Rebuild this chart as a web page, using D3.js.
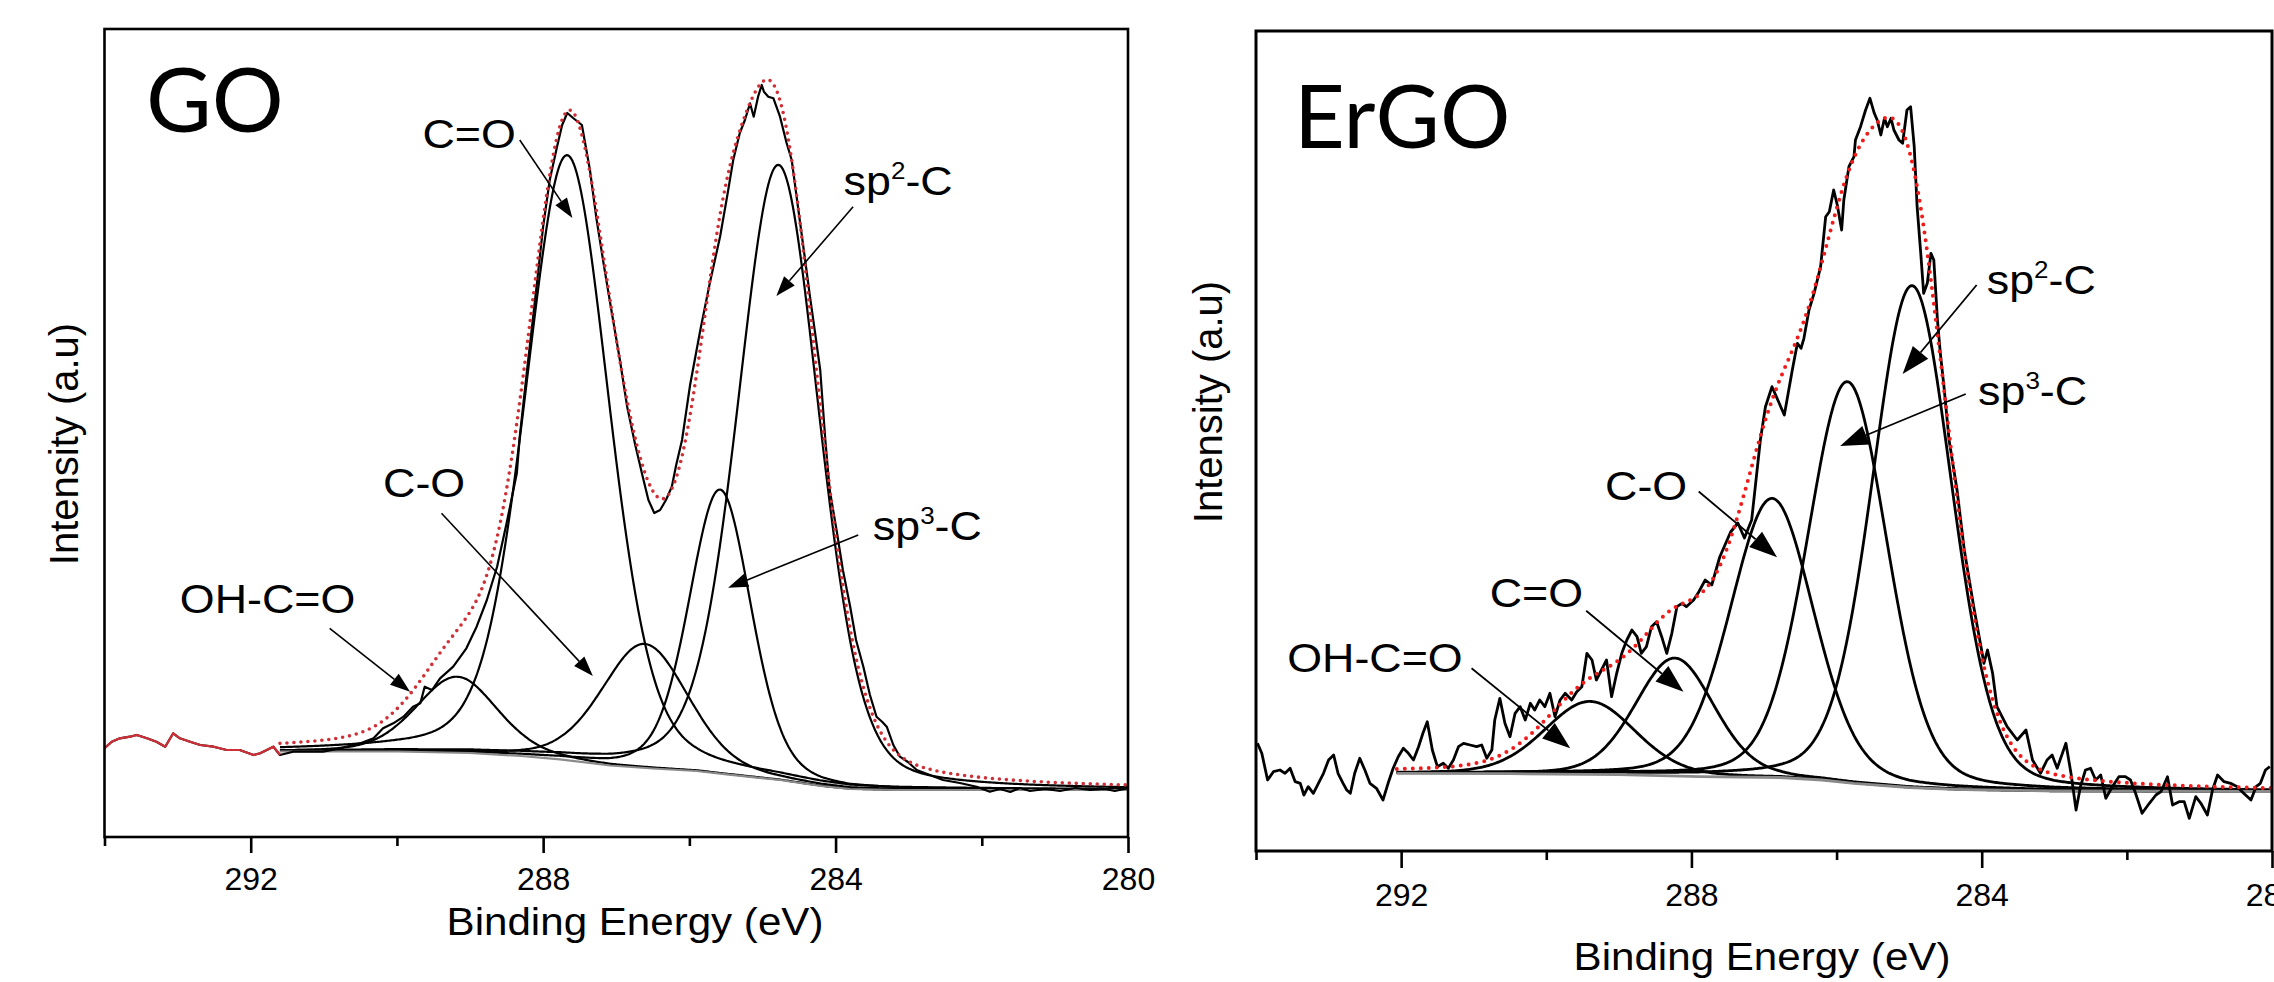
<!DOCTYPE html>
<html>
<head>
<meta charset="utf-8">
<script src="https://cdn.jsdelivr.net/npm/d3@7"></script>
<style>
  body { margin: 0; background: #fff; }
  svg { display: block; }
  text { font-family: "Liberation Sans", Arial, sans-serif; fill: #000; }
  text.tag { font-family: Lato, "Open Sans", sans-serif; }
</style>
</head>
<body>
<script>
// ---- data ----
var tickMajor = [292, 288, 284, 280];
var tickMinor = [294, 290, 286, 282];
var peakNames = ["OH-C=O", "C=O", "C-O", "sp3-C", "sp2-C"];

// GO : raw spectrum [binding energy eV, intensity a.u.]
var goRaw = [[294.00,88.7],[293.90,95.3],[293.79,98.7],[293.65,100.3],[293.56,102],[293.42,98.7],[293.29,95.3],[293.17,90.3],[293.06,103.7],[292.97,98.7],
  [292.83,95.3],[292.69,92],[292.51,90.3],[292.33,87],[292.15,87],[291.96,82],[291.87,83.7],[291.69,90.3],[291.60,82],[291.42,85.3],
  [291.23,85.3],[291.01,85.3],[290.78,88.7],[290.50,93.7],[290.32,98.7],[290.19,108.7],[290.05,113.7],[289.91,120.3],[289.78,130.3],[289.68,133.7],
  [289.62,150.3],[289.52,147],[289.41,158.7],[289.23,170.3],[289.05,188.7],[288.91,210.3],[288.77,237],[288.63,270.3],[288.50,313.7],[288.36,363.7],
  [288.32,400.3],[288.22,467],[288.09,550.3],[288.00,610.3],[287.91,657],[287.81,690.3],[287.74,712],[287.67,724],[287.59,719],[287.47,712],
  [287.36,667],[287.27,618],[287.17,572],[287.06,524],[286.95,477],[286.85,430],[286.74,392],[286.64,361],[286.56,337],[286.48,324],
  [286.40,327],[286.32,337],[286.24,350.3],[286.18,372],[286.10,397],[285.99,452],[285.85,507],[285.72,554],[285.58,600.3],[285.48,642],
  [285.40,677],[285.31,704],[285.24,717],[285.17,733.7],[285.12,720.3],[285.06,740.3],[285.01,752],[284.98,745.3],[284.92,740.3],[284.85,738.7],
  [284.76,720.3],[284.67,694],[284.60,677],[284.49,617],[284.42,579],[284.35,540.3],[284.28,504],[284.21,467],[284.14,397],[284.08,347],
  [283.98,304],[283.90,267],[283.80,230.3],[283.72,197],[283.62,170.3],[283.53,142],[283.44,120.3],[283.36,115],[283.30,110.3],[283.21,92],
  [283.12,80.3],[283.01,75],[282.89,67],[282.71,62],[282.53,57],[282.30,54],[282.07,50.3],[281.89,45.3],[281.75,48],[281.61,45],
  [281.48,49],[281.34,46],[281.13,48],[280.93,46],[280.72,49],[280.52,47],[280.31,48],[280.18,46],[280.00,49]];
// GO : Shirley background
var goBase = [[291.60,85.5],[290.00,85.5],[289.00,84],[288.30,81],[287.77,77.7],[287.08,71.5],[286.50,68.5],[285.90,66],
  [285.49,62.7],[284.76,57],[284.20,51],[283.80,48],[283.20,47],[280.00,47]];
// GO : fitted components (same order as peakNames)
var goCenter = [289.18, 287.67, 286.61, 285.58, 284.78];
var goFwhm   = [1.30, 1.35, 1.40, 1.00, 1.32];
var goHeight = [76, 605, 124, 284, 615];

// ErGO : raw spectrum
var ergoRaw = [[293.98,107.7],[293.92,97.7],[293.84,71],[293.76,79.3],[293.67,81],[293.60,77.7],[293.53,82.7],[293.46,69.3],[293.39,67.7],[293.34,56],
  [293.28,64.3],[293.21,57.7],[293.14,67.7],[293.07,77.7],[293.00,91],[292.93,96],[292.87,77.7],[292.80,67.7],[292.75,61],[292.70,57.7],
  [292.64,77.7],[292.57,92.7],[292.50,81],[292.43,67.7],[292.34,62.7],[292.25,51],[292.18,67.7],[292.11,82.7],[292.04,94.3],[291.97,102.7],
  [291.90,97.7],[291.83,91],[291.76,104.3],[291.70,117.7],[291.64,129.3],[291.57,101],[291.50,84.3],[291.42,87.7],[291.35,82.7],[291.28,91],
  [291.21,104.3],[291.14,107.7],[291.05,106],[290.96,104.3],[290.89,106],[290.82,92.7],[290.75,101],[290.71,131],[290.64,152.7],[290.57,127.7],
  [290.50,114.3],[290.43,137.7],[290.36,144.3],[290.29,131],[290.22,147.7],[290.16,141],[290.09,151],[290.02,144.3],[289.95,157.7],[289.88,134.3],
  [289.81,151],[289.74,157.7],[289.65,151],[289.58,159.3],[289.51,164.3],[289.44,197.7],[289.37,191],[289.31,171],[289.24,181],[289.17,191],
  [289.10,154.3],[289.03,177.7],[288.96,197.7],[288.89,211],[288.82,221],[288.75,214.3],[288.69,197.7],[288.62,204.3],[288.55,224.3],[288.48,229.3],
  [288.41,214.3],[288.34,197.7],[288.27,217.7],[288.20,244.3],[288.13,247.7],[288.07,244.3],[287.97,251],[287.91,257.7],[287.81,271],[287.72,266],
  [287.61,294],[287.46,319],[287.36,328],[287.27,313],[287.17,331],[287.05,411],[286.98,444.3],[286.89,464.3],[286.79,447.7],[286.72,436],
  [286.61,481],[286.54,507.7],[286.49,502.7],[286.45,512.7],[286.38,541],[286.31,557.7],[286.22,584.3],[286.15,634.3],[286.10,639.3],[286.04,661],
  [285.99,646],[285.93,621],[285.90,651],[285.83,684.3],[285.76,694.3],[285.74,711],[285.67,724.3],[285.60,741],[285.54,752.7],[285.48,737.7],
  [285.44,731],[285.39,716],[285.34,732.7],[285.30,724.3],[285.25,732.7],[285.21,721],[285.14,711],[285.09,707.7],[285.03,741],[284.98,744.3],
  [284.93,704.3],[284.89,644.3],[284.84,597.7],[284.80,557.7],[284.75,567.7],[284.70,597.7],[284.66,591],[284.61,531],[284.57,497.7],[284.52,464.3],
  [284.45,411],[284.34,361],[284.24,301],[284.11,244.3],[284.01,204.3],[283.97,187.7],[283.92,201],[283.85,177.7],[283.79,144.3],[283.65,124.3],
  [283.51,111],[283.39,121],[283.30,91],[283.19,77.7],[283.10,91],[283.03,96],[282.96,82.7],[282.84,107.7],[282.77,77.7],[282.70,41],
  [282.64,64.3],[282.57,81],[282.50,82.7],[282.43,71],[282.36,76],[282.29,52.7],[282.20,64.3],[282.11,74.3],[282.02,74.3],[281.95,71],
  [281.88,57.7],[281.79,37.7],[281.69,47.7],[281.60,56],[281.53,59.3],[281.44,74.3],[281.37,46],[281.28,49.3],[281.21,49.3],[281.14,32.7],
  [281.05,54.3],[280.98,47.7],[280.89,36],[280.82,61],[280.75,76],[280.66,69.3],[280.57,67.7],[280.48,64.3],[280.39,57.7],[280.29,51],
  [280.22,64.3],[280.16,67.7],[280.09,81],[280.03,84.3]];
var ergoBase = [[292.06,77.7],[290.50,77.3],[289.00,76.3],[287.88,74.3],[286.78,73.5],[286.20,71],[285.76,67.7],[285.00,63.5],
  [284.38,61.7],[283.93,61],[283.00,60],[280.00,59.5]];
var ergoCenter = [289.40, 288.23, 286.89, 285.85, 284.96];
var ergoFwhm   = [1.48, 1.28, 1.36, 1.30, 1.30];
var ergoHeight = [73, 118, 279, 401, 502];

// ---- drawing ----
var W = 2274, H = 982;
var svg = d3.select("body").append("svg").attr("width", W).attr("height", H);

function pv(be, c, w, eta) {
  var t = (be - c) / w;
  return (1 - eta) * Math.exp(-4 * Math.LN2 * t * t) + eta / (1 + 4 * t * t);
}

function arrow(g, x1, y1, x2, y2, L, Wd, lw) {
  var dx = x2 - x1, dy = y2 - y1, len = Math.hypot(dx, dy);
  var ux = dx / len, uy = dy / len;
  var bx = x2 - ux * L, by = y2 - uy * L;
  g.append("line").attr("x1", x1).attr("y1", y1).attr("x2", bx).attr("y2", by)
    .attr("stroke", "#000").attr("stroke-width", lw);
  g.append("path")
    .attr("d", "M" + x2 + "," + y2 + "L" + (bx - uy * Wd) + "," + (by + ux * Wd) + "L" + (bx + uy * Wd) + "," + (by - ux * Wd) + "Z")
    .attr("fill", "#000");
}

function label(g, txt, px, py, size, sx) {
  var t = g.append("text").attr("transform", "translate(" + px + "," + py + ") scale(" + sx + ",1)")
    .attr("font-size", size);
  var m = txt.match(/^sp(\d)-C$/);
  if (m) {
    t.append("tspan").text("sp");
    t.append("tspan").attr("dy", -0.4 * size).attr("font-size", size * 0.58).text(m[1]);
    t.append("tspan").attr("dy", 0.4 * size).text("-C");
  } else {
    t.text(txt);
  }
}

function drawPanel(p) {
  var g = svg.append("g");
  var x = d3.scaleLinear().domain([294, 280]).range([p.x0, p.x1]);
  var y = d3.scaleLinear().domain([0, p.vTop]).range([p.y0, p.y1]);
  var base = d3.scaleLinear().domain(p.base.map(function(d) { return d[0]; }))
    .range(p.base.map(function(d) { return d[1]; })).clamp(true);
  var line = d3.line().x(function(d) { return x(d[0]); }).y(function(d) { return y(d[1]); });

  g.append("clipPath").attr("id", p.id + "clip").append("rect")
    .attr("x", p.x0).attr("y", p.y1).attr("width", p.x1 - p.x0).attr("height", p.y0 - p.y1);
  var plot = g.append("g").attr("clip-path", "url(#" + p.id + "clip)");

  var grid = d3.range(p.fitStart, 279.99, -0.02);

  // fitted components
  p.center.forEach(function(c, i) {
    var pts = grid.map(function(be) { return [be, base(be) + p.height[i] * pv(be, c, p.fwhm[i], p.eta)]; });
    plot.append("path").attr("d", line(pts)).attr("fill", "none")
      .attr("stroke", "#000").attr("stroke-width", p.lw);
  });

  // background
  plot.append("path").attr("d", line(p.base)).attr("fill", "none")
    .attr("stroke", "#8a8a8a").attr("stroke-width", p.lw);

  // raw data
  plot.append("path").attr("d", line(p.raw)).attr("fill", "none")
    .attr("stroke", "#000").attr("stroke-width", p.rawW).attr("stroke-linejoin", "round");
  if (p.redLead) {
    var lead = p.raw.filter(function(d) { return d[0] >= p.fitStart; });
    plot.append("path").attr("d", line(lead)).attr("fill", "none")
      .attr("stroke", p.red).attr("stroke-width", 2.2);
  }

  // envelope
  var env = grid.map(function(be) {
    var s = base(be);
    p.center.forEach(function(c, i) { s += p.height[i] * pv(be, c, p.fwhm[i], p.eta); });
    return [be, s];
  });
  plot.append("path").attr("d", line(env)).attr("fill", "none")
    .attr("stroke", p.red).attr("stroke-width", p.dotW)
    .attr("stroke-linecap", "round").attr("stroke-dasharray", p.dash);

  // annotations
  p.notes.forEach(function(n) {
    arrow(g, x(n.from[0]), y(n.from[1]), x(n.to[0]), y(n.to[1]), p.head[0], p.head[1], p.arrowW);
    label(g, n.name, x(n.at[0]), y(n.at[1]), 40, 1.12);
  });

  // frame
  g.append("rect").attr("x", p.x0).attr("y", p.y1).attr("width", p.x1 - p.x0).attr("height", p.y0 - p.y1)
    .attr("fill", "none").attr("stroke", "#000").attr("stroke-width", p.frameW);

  // axis
  var major = g.append("g").attr("transform", "translate(0," + p.y0 + ")")
    .call(d3.axisBottom(x).tickValues(tickMajor).tickSize(p.tick[0]).tickPadding(p.tickPad).tickFormat(d3.format("d")));
  var minor = g.append("g").attr("transform", "translate(0," + p.y0 + ")")
    .call(d3.axisBottom(x).tickValues(tickMinor).tickSize(p.tick[1]).tickFormat(""));
  [major, minor].forEach(function(a) {
    a.select(".domain").remove();
    a.selectAll("line").attr("stroke", "#000").attr("stroke-width", 2.6);
  });
  major.selectAll("text").attr("font-size", 32).attr("fill", "#000");

  g.append("text").attr("transform", "translate(" + p.xTitle[0] + "," + p.xTitle[1] + ") scale(1.08,1)")
    .attr("text-anchor", "middle").attr("font-size", 39).text("Binding Energy (eV)");
  g.append("text").attr("transform", "translate(" + p.yTitle[0] + "," + p.yTitle[1] + ") rotate(-90)")
    .attr("text-anchor", "middle").attr("font-size", 40).text("Intensity (a.u)");
  g.append("text").attr("class", "tag").attr("x", p.tag[0]).attr("y", p.tag[1])
    .attr("font-size", p.tag[2]).text(p.id);
}

drawPanel({
  id: "GO", x0: 104.5, x1: 1128, y0: 837, y1: 29, vTop: 808,
  raw: goRaw, base: goBase, center: goCenter, fwhm: goFwhm, height: goHeight,
  fitStart: 291.6, eta: 0.25, lw: 2.2, rawW: 2.2, frameW: 2.6,
  red: "#cf2f36", dotW: 3.6, dash: "0 7", redLead: true,
  head: [20, 7], arrowW: 1.6, tick: [16, 9], tickPad: 14,
  xTitle: [635, 935], yTitle: [78, 444], tag: [146, 132, 90],
  notes: [
    { name: "C=O",    at: [289.65, 689.3], from: [288.32, 697],   to: [287.60, 619] },
    { name: "sp2-C",  at: [283.89, 642],   from: [283.76, 630.3], to: [284.81, 541] },
    { name: "sp3-C",  at: [283.49, 297],   from: [283.69, 302],   to: [285.47, 249.3] },
    { name: "C-O",    at: [290.19, 340.3], from: [289.39, 323.7], to: [287.32, 161] },
    { name: "OH-C=O", at: [292.97, 223.7], from: [290.92, 208.7], to: [289.82, 145.3] }
  ]
});

drawPanel({
  id: "ErGO", x0: 1256, x1: 2272, y0: 851, y1: 31, vTop: 820,
  raw: ergoRaw, base: ergoBase, center: ergoCenter, fwhm: ergoFwhm, height: ergoHeight,
  fitStart: 292.06, eta: 0.2, lw: 2.8, rawW: 2.8, frameW: 3,
  red: "#f01c1c", dotW: 4, dash: "0 8", redLead: false,
  head: [28, 10], arrowW: 1.8, tick: [17, 9], tickPad: 15,
  xTitle: [1762, 970], yTitle: [1222, 402], tag: [1294, 148, 88],
  notes: [
    { name: "sp2-C",  at: [283.93, 557],   from: [284.07, 566],   to: [285.09, 477] },
    { name: "sp3-C",  at: [284.05, 446],   from: [284.22, 457],   to: [285.95, 405] },
    { name: "C-O",    at: [289.19, 351],   from: [287.90, 359.5], to: [286.82, 293.7] },
    { name: "C=O",    at: [290.78, 244.3], from: [289.45, 240.3], to: [288.11, 159.3] },
    { name: "OH-C=O", at: [293.57, 179.3], from: [291.03, 182.7], to: [289.67, 102.7] }
  ]
});
</script>
</body>
</html>
